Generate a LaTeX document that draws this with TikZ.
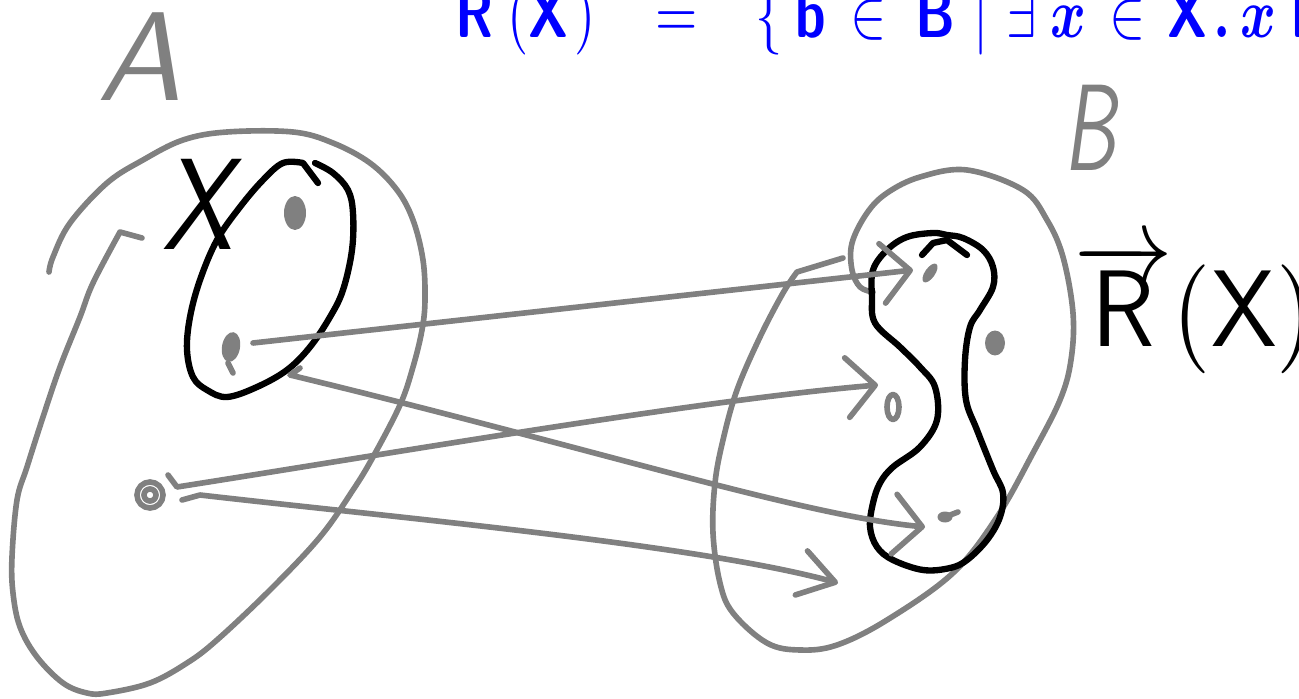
\documentclass[tikz,border=0pt]{standalone}
\usepackage{xcolor}
\usepackage{graphicx}
\usepackage{tikz}
\usetikzlibrary{arrows.meta, shapes.geometric}

\newcommand{\fmsf}[1]{\mbox{\boldmath$\mathsf{#1}$}}
\newcommand{\fmbd}[1]{\mbox{\boldmath$#1$}}

\tikzset{
  pen/.style={draw=gray, line width=3.2pt, line cap=round, line join=round},
  ink/.style={draw=black, line width=3.6pt, line cap=round, line join=round},
  arr/.style={pen, -{Straight Barb[length=16pt, width=34pt, round]}},
  blob/.style={ellipse, fill=gray, inner sep=0pt},
  hand/.style={font=\sffamily\itshape, inner sep=0pt},
  formula/.style={text=blue, inner sep=0pt, anchor=base west}
}

\begin{document}
\begin{tikzpicture}[x=0.02cm, y=-0.02cm]
        \useasboundingbox (0,0) rectangle (1299,699);
        \clip (0,0) rectangle (1299,699);

        % the formula along the top edge
        \foreach \gx/\gl [count=\i] in {455/\fmsf{R}, 507/(, 528/\fmsf{X}, 574/), 655/=, 755/\{, 795/\fmsf{b}, 850/\in, 915/\fmsf{B}, 973/\mid, 1006/\exists, 1050/\fmbd{x}, 1109/\in, 1167/\fmsf{X}, 1213/\fmbd{.}, 1240/\fmbd{x}, 1290/\fmsf{R}}
            \node[formula] (f\i) at (\gx,38) {\scalebox{3.1}[4.0]{$\gl$}};

        % labels
        \node[hand, text=gray] (labA) at (140,57) {\scalebox{7.2}{A}};
        \node[hand] (labX) at (198,204) {\scalebox{6.0}[7.4]{X}};
        \node[hand, text=gray] (labB) at (1090,128) {\scalebox{4.5}[7.0]{B}};
        \node[hand, anchor=west] (labR) at (1074,308) {\scalebox{5.6}[6.2]{$\overrightarrow{\mathsf{R}}(\mathsf{X})$}};

        % set A
        \draw[pen] plot[smooth, tension=0.6] coordinates {(49,272) (53,257) (70,223) (107,183) (143,160) (183,140) (227,132) (293,132) (333,143) (370,163) (397,190) (413,220) (423,260) (425,300) (422,330) (413,367) (400,405) (373,457) (353,490) (320,537) (270,590) (217,640) (187,663) (150,683) (107,693) (87,693) (63,683) (37,657) (20,627) (13,593) (12,557) (17,500) (27,467) (43,417) (60,367) (80,317) (93,283) (120,232)} -- (142,238);

        % subset X
        \draw[ink] plot[smooth, tension=0.6] coordinates {(315,163) (333,173) (348,190) (353,213) (352,250) (343,290) (330,317) (310,347) (287,370) (257,387) (227,397) (207,390) (193,377) (187,350) (190,317) (200,280) (217,240) (240,207) (263,180) (283,163) (303,163)} -- (318,183);

        % set B
        \draw[pen] plot[smooth, tension=0.6] coordinates {(873,292) (860,287) (852,270) (852,243) (867,213) (887,193) (920,177) (967,170) (1023,190) (1047,220) (1063,257) (1073,313) (1071,360) (1060,400) (1033,453) (997,517) (953,573) (887,620) (837,645) (800,650) (767,643) (733,613) (720,583) (713,533) (715,483) (723,440) (737,390) (760,337) (783,293) (797,272)} -- (843,258);

        % image of X
        \draw[ink] plot[smooth cycle, tension=0.6] coordinates {(947,235) (933,233) (907,237) (887,250) (873,270) (872,297) (875,323) (900,347) (920,367) (935,387) (937,420) (920,447) (893,467) (880,483) (873,503) (870,527) (877,547) (893,560) (923,570) (950,568) (967,560) (987,540) (1000,517) (1003,493) (993,470) (977,430) (966,400) (965,360) (970,327) (980,310) (993,287) (993,267) (983,250) (963,238)};
        \draw[ink] (922,255) -- (933,243) -- (947,240) -- (967,255);

        % elements
        \node[blob, minimum width=0.44cm, minimum height=0.68cm] (a1) at (295,213) {};
        \node[blob, minimum width=0.36cm, minimum height=0.6cm, rotate=-10] (a2) at (231,347) {};
        \draw[pen] ([shift={(-3,16)}]a2.center) -- ([shift={(2,26)}]a2.center);
        \node[circle, pen, minimum size=0.52cm, inner sep=0pt] (a3) at (150,495) {};
        \draw[pen] (a3) circle[radius=6];

        \node[blob, minimum width=0.2cm, minimum height=0.44cm, rotate=-35] (b1) at (930,273) {};
        \node[ellipse, pen, minimum width=0.24cm, minimum height=0.5cm, inner sep=0pt] (b2) at (893,407) {};
        \node[blob, minimum width=0.3cm, minimum height=0.22cm] (b3) at (945,517) {};
        \draw[pen] (b3.center) -- ([shift={(13,-5)}]b3.center);
        \node[blob, minimum width=0.4cm, minimum height=0.5cm] (b5) at (995,343) {};
        \coordinate (b4) at (838,583);
        \coordinate (xrim) at (290,375);

        % the relation
        \draw[arr] ([shift={(22,-4)}]a2.center) -- ([shift={(-17,-3)}]b1.center);
        \draw[arr] ([shift={(10,-7)}]xrim) -- (xrim) .. controls (600,450) and (800,515) .. ([shift={(-20,10)}]b3.center);
        \draw[arr] ([shift={(18,-20)}]a3.center) -- ([shift={(27,-8)}]a3.center) .. controls (400,452) and (700,400) .. ([shift={(-15,-22)}]b2.center);
        \draw[pen, -{Straight Barb[length=20pt, width=26pt, round]}] ([shift={(32,5)}]a3.center) -- ([shift={(50,0)}]a3.center) .. controls (400,518) and (700,545) .. (b4);

\end{tikzpicture}
\end{document}
